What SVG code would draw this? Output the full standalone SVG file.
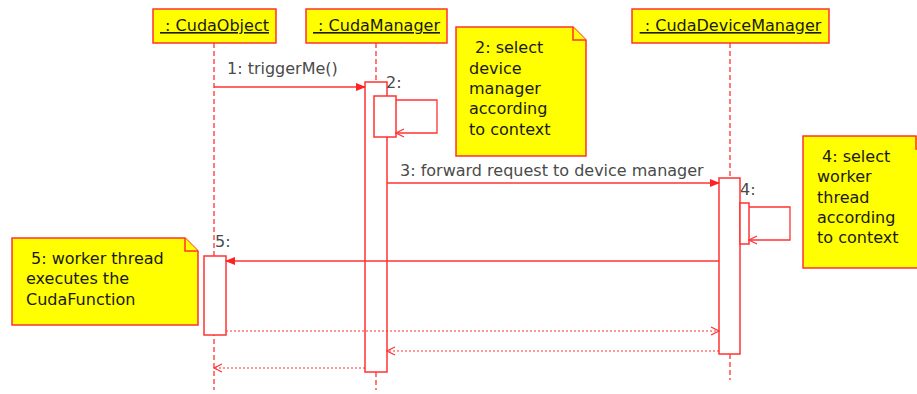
<svg xmlns="http://www.w3.org/2000/svg" width="917" height="394" viewBox="0 0 917 394">
<defs>
<style>
text{font-family:"DejaVu Sans","Verdana",sans-serif;font-size:16px}
.obj{fill:#ffff00;stroke:#ff3333;stroke-width:1.5}
.objt{fill:#1a1a1a;text-decoration:underline}
.life{stroke:#ff3333;stroke-width:1.3;stroke-dasharray:5,3;fill:none}
.act{fill:#fff;stroke:#ff3333;stroke-width:1.5}
.msg{stroke:#ff3333;stroke-width:1.3;fill:none}
.ret{stroke:#ff3333;stroke-width:1.2;stroke-dasharray:2,2;fill:none}
.lbl{fill:#4a4a4a}
.note{fill:#ffff00;stroke:#ff3333;stroke-width:1.5}
.nt{fill:#1a1a1a}
</style>
<marker id="fill" markerWidth="10" markerHeight="10" refX="9" refY="5" orient="auto" markerUnits="userSpaceOnUse">
<path d="M0,1 L10,5 L0,9 Z" fill="#ff2222"/>
</marker>
<marker id="open" markerWidth="10" markerHeight="10" refX="9" refY="5" orient="auto" markerUnits="userSpaceOnUse">
<path d="M1,1 L9,5 L1,9" fill="none" stroke="#ff3333" stroke-width="1.2"/>
</marker>
</defs>
<rect width="917" height="394" fill="#fff"/>

<g id="lifelines">
<line class="life" x1="214" y1="43" x2="214" y2="390"/>
<line class="life" x1="376" y1="43" x2="376" y2="82"/>
<line class="life" x1="376" y1="372" x2="376" y2="390"/>
<line class="life" x1="730" y1="43" x2="730" y2="178"/>
<line class="life" x1="730" y1="354" x2="730" y2="380"/>
</g>

<g id="cudaObject">
<rect class="obj" x="153" y="9" width="123" height="34"/>
<text class="objt" x="214.5" y="31" text-anchor="middle" xml:space="preserve"> : CudaObject</text>
</g>
<g id="cudaManager">
<rect class="obj" x="306" y="9" width="141" height="34"/>
<text class="objt" x="376.5" y="31" text-anchor="middle" xml:space="preserve"> : CudaManager</text>
</g>
<g id="cudaDeviceManager">
<rect class="obj" x="632" y="9" width="197" height="34"/>
<text class="objt" x="730.5" y="31" text-anchor="middle" xml:space="preserve"> : CudaDeviceManager</text>
</g>

<g id="activations">
<rect class="act" x="365" y="82" width="22" height="290"/>
<rect class="act" x="374" y="96" width="22" height="41"/>
<rect class="act" x="719" y="178" width="21" height="176"/>
<rect class="act" x="740" y="203" width="9" height="41"/>
<rect class="act" x="204" y="256" width="22" height="79"/>
</g>

<g id="connectors">
<line class="msg" x1="214" y1="87" x2="365" y2="87" marker-end="url(#fill)"/>
<text class="lbl" x="227" y="74">1: triggerMe()</text>
<polyline class="msg" points="396,100 437,100 437,133 396,133" marker-end="url(#open)"/>
<text class="lbl" x="386" y="88">2:</text>
<line class="msg" x1="387" y1="183" x2="719" y2="183" marker-end="url(#fill)"/>
<text class="lbl" x="400" y="176">3: forward request to device manager</text>
<polyline class="msg" points="749,207 790,207 790,240 749,240" marker-end="url(#open)"/>
<text class="lbl" x="740" y="195">4:</text>
<line class="msg" x1="719" y1="261" x2="226" y2="261" marker-end="url(#fill)"/>
<text class="lbl" x="215" y="247">5:</text>
<line class="ret" x1="226" y1="331" x2="719" y2="331" marker-end="url(#open)"/>
<line class="ret" x1="719" y1="351" x2="387" y2="351" marker-end="url(#open)"/>
<line class="ret" x1="365" y1="368" x2="214" y2="368" marker-end="url(#open)"/>
</g>

<g id="note2">
<path class="note" d="M456,27 L573,27 L586,40 L586,156 L456,156 Z"/>
<path class="note" d="M573,27 L573,40 L586,40"/>
<text class="nt" x="475" y="53">2: select</text>
<text class="nt" x="469" y="74">device</text>
<text class="nt" x="469" y="94">manager</text>
<text class="nt" x="469" y="114">according</text>
<text class="nt" x="469" y="135">to context</text>
</g>

<g id="note4">
<path class="note" d="M803,136 L916,136 L929,149 L929,268 L803,268 Z"/>
<path class="note" d="M916,136 L916,149 L929,149"/>
<text class="nt" x="822" y="162">4: select</text>
<text class="nt" x="817" y="182">worker</text>
<text class="nt" x="817" y="203">thread</text>
<text class="nt" x="817" y="223">according</text>
<text class="nt" x="817" y="243">to context</text>
</g>

<g id="note5">
<path class="note" d="M12,238 L185,238 L198,251 L198,325 L12,325 Z"/>
<path class="note" d="M185,238 L185,251 L198,251"/>
<text class="nt" x="31" y="264">5: worker thread</text>
<text class="nt" x="26" y="284">executes the</text>
<text class="nt" x="26" y="305">CudaFunction</text>
</g>
</svg>
